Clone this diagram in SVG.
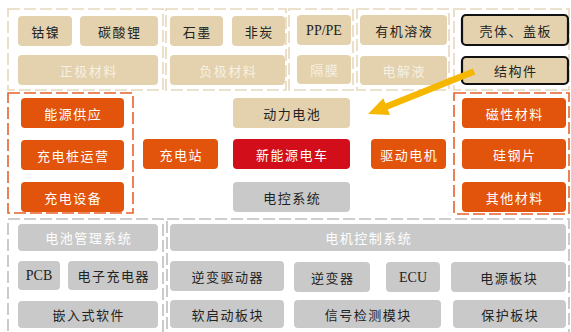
<svg xmlns="http://www.w3.org/2000/svg" width="571" height="332" viewBox="0 0 571 332">
<style>
.b{fill:#E3D2AD}
.o{fill:#E2530B}
.r{fill:#D20E1A}
.g{fill:#C9C9C9}
.k{fill:#E3D2AD;stroke:#111;stroke-width:2.2}
.gb{fill:none;stroke:#E6D8BC;stroke-width:1.6;stroke-dasharray:12,4}
.ob{fill:none;stroke:#E8622A;stroke-width:1.6;stroke-dasharray:12,4}
.yb{fill:none;stroke:#BEBEBE;stroke-width:1.6;stroke-dasharray:12,4}
text{font-family:"Noto Sans CJK SC","Noto Sans",sans-serif;font-size:13px;letter-spacing:1.5px;text-anchor:middle;dominant-baseline:central}
.d{fill:#222}
.w{fill:#FFFFFF}
.lw{fill:#F7F0E2}
.lat{font-family:"Liberation Serif",serif;font-size:14px;letter-spacing:0}
</style>
<g id="groups">
<rect id="grp-pos" class="gb" x="8" y="9" width="155" height="81"/>
<rect id="grp-neg" class="gb" x="166" y="9" width="120" height="81"/>
<rect id="grp-sep" class="gb" x="289" y="9" width="64" height="81"/>
<rect id="grp-ele" class="gb" x="357" y="9" width="92" height="81"/>
<rect id="grp-str" class="gb" x="454" y="9" width="115" height="81"/>
<rect id="grp-charge" class="ob" x="8" y="93" width="125" height="120"/>
<rect id="grp-mag" class="ob" x="454" y="93" width="115" height="121"/>
<rect id="grp-bms" class="yb" x="8" y="219" width="155" height="125"/>
<rect id="grp-mcs" class="yb" x="167" y="219" width="402" height="125"/>
</g>
<g id="n-gn"><rect class="b" x="18" y="16" width="54" height="30" rx="4"/><text class="d" x="45.75" y="31">钴镍</text></g>
<g id="n-tsl"><rect class="b" x="80" y="16" width="78" height="30" rx="4"/><text class="d" x="119.75" y="31">碳酸锂</text></g>
<g id="n-zj"><rect class="b" x="18" y="55" width="140" height="30" rx="4"/><text class="lw" x="88.75" y="70">正极材料</text></g>
<g id="n-sm"><rect class="b" x="170" y="16" width="53" height="30" rx="4"/><text class="d" x="197.25" y="31">石墨</text></g>
<g id="n-ft"><rect class="b" x="232" y="16" width="53" height="30" rx="4"/><text class="d" x="259.25" y="31">非炭</text></g>
<g id="n-fj"><rect class="b" x="170" y="55" width="115" height="30" rx="4"/><text class="lw" x="228.25" y="70">负极材料</text></g>
<g id="n-pp"><rect class="b" x="297" y="15" width="54" height="30" rx="4"/><text class="d lat" x="324" y="30">PP/PE</text></g>
<g id="n-gm"><rect class="b" x="297" y="55" width="54" height="29" rx="4"/><text class="lw" x="324.75" y="69.5">隔膜</text></g>
<g id="n-yj"><rect class="b" x="360" y="15" width="87" height="30" rx="4"/><text class="d" x="404.25" y="30">有机溶液</text></g>
<g id="n-dj"><rect class="b" x="360" y="56" width="87" height="29" rx="4"/><text class="lw" x="404.25" y="70.5">电解液</text></g>
<g id="n-kt"><rect class="k" x="462" y="15" width="106" height="30" rx="4"/><text class="d" x="515.75" y="30">壳体、盖板</text></g>
<g id="n-jg"><rect class="k" x="462" y="57" width="106" height="27" rx="4"/><text class="d" x="515.75" y="70.5">结构件</text></g>
<g id="n-nyg"><rect class="o" x="21" y="98" width="103" height="30" rx="4"/><text class="w" x="73.25" y="113">能源供应</text></g>
<g id="n-cdz"><rect class="o" x="21" y="140" width="103" height="30" rx="4"/><text class="w" x="73.25" y="155">充电桩运营</text></g>
<g id="n-cds"><rect class="o" x="21" y="182" width="103" height="30" rx="4"/><text class="w" x="73.25" y="197">充电设备</text></g>
<g id="n-czz"><rect class="o" x="143" y="139" width="75" height="30" rx="4"/><text class="w" x="181.25" y="154">充电站</text></g>
<g id="n-dl"><rect class="b" x="233" y="98" width="117" height="30" rx="4"/><text class="d" x="292.25" y="113">动力电池</text></g>
<g id="n-xny"><rect class="r" x="233" y="139" width="117" height="30" rx="4"/><text class="w" x="292.25" y="154">新能源电车</text></g>
<g id="n-dk"><rect class="g" x="233" y="182" width="117" height="30" rx="4"/><text class="d" x="292.25" y="197">电控系统</text></g>
<g id="n-qd"><rect class="o" x="371" y="139" width="75" height="30" rx="4"/><text class="w" x="409.25" y="154">驱动电机</text></g>
<g id="n-cx"><rect class="o" x="462" y="98" width="104" height="30" rx="4"/><text class="w" x="514.75" y="113">磁性材料</text></g>
<g id="n-gg"><rect class="o" x="462" y="139" width="104" height="30" rx="4"/><text class="w" x="514.75" y="154">硅钢片</text></g>
<g id="n-qt"><rect class="o" x="462" y="182" width="104" height="30" rx="4"/><text class="w" x="514.75" y="197">其他材料</text></g>
<g id="n-bms"><rect class="g" x="18" y="224" width="140" height="27" rx="4"/><text class="w" x="88.75" y="237.5">电池管理系统</text></g>
<g id="n-pcb"><rect class="g" x="18" y="261" width="42" height="29" rx="4"/><text class="d lat" x="39" y="275.5">PCB</text></g>
<g id="n-dzc"><rect class="g" x="68" y="261" width="90" height="29" rx="4"/><text class="d" x="113.75" y="275.5">电子充电器</text></g>
<g id="n-qrs"><rect class="g" x="18" y="301" width="140" height="27" rx="4"/><text class="d" x="88.75" y="314.5">嵌入式软件</text></g>
<g id="n-mcs"><rect class="g" x="170" y="224" width="396" height="27" rx="4"/><text class="w" x="368.75" y="237.5">电机控制系统</text></g>
<g id="n-nbq"><rect class="g" x="170" y="261" width="114" height="30" rx="4"/><text class="d" x="227.75" y="276">逆变驱动器</text></g>
<g id="n-nb"><rect class="g" x="294" y="262" width="76" height="30" rx="4"/><text class="d" x="332.75" y="277">逆变器</text></g>
<g id="n-ecu"><rect class="g" x="386" y="262" width="54" height="30" rx="4"/><text class="d lat" x="413" y="277">ECU</text></g>
<g id="n-dy"><rect class="g" x="451" y="262" width="115" height="30" rx="4"/><text class="d" x="509.25" y="277">电源板块</text></g>
<g id="n-rqd"><rect class="g" x="170" y="300" width="114" height="28" rx="4"/><text class="d" x="227.75" y="314">软启动板块</text></g>
<g id="n-xh"><rect class="g" x="294" y="300" width="147" height="28" rx="4"/><text class="d" x="368.25" y="314">信号检测模块</text></g>
<g id="n-bh"><rect class="g" x="453" y="300" width="113" height="28" rx="4"/><text class="d" x="510.25" y="314">保护板块</text></g>
<g id="connectors">
<line x1="474" y1="71.6" x2="386" y2="106.8" stroke="#F5B700" stroke-width="6.5"/>
<polygon points="368,114 383.3,98.2 390,115" fill="#F5B700"/>
</g>
</svg>
